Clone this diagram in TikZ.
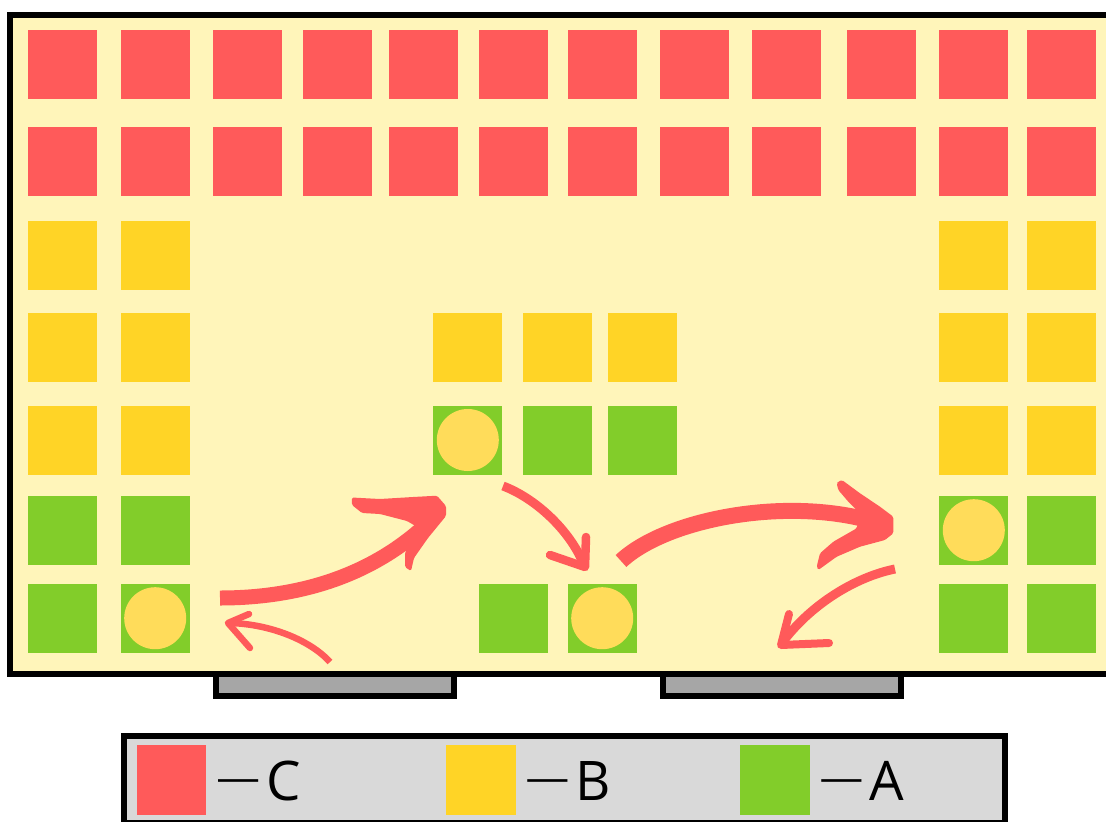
\documentclass[tikz,border=0pt]{standalone}
\usepackage{fontspec}
\setmainfont{Open Sans}
\usepackage{graphicx}
\definecolor{bgy}{HTML}{FFF5BA}
\definecolor{cred}{HTML}{FF5A5A}
\definecolor{cyel}{HTML}{FFD426}
\definecolor{cgrn}{HTML}{82CD2A}
\definecolor{ccirc}{HTML}{FFDC5A}
\definecolor{doorgray}{HTML}{A6A6A6}
\definecolor{leggray}{HTML}{D9D9D9}
\definecolor{arr}{HTML}{FF5A5A}
\newcommand\legdash{\raisebox{10pt}{\scalebox{0.8}[0.65]{—}}\hspace{6pt}}
\begin{document}
\begin{tikzpicture}[x=1pt,y=-1pt,
  sq/.style={minimum size=69pt, inner sep=0pt, outer sep=0pt, anchor=north west, draw=none},
  redsq/.style={sq, fill=cred},
  yelsq/.style={sq, fill=cyel},
  grnsq/.style={sq, fill=cgrn},
  dot/.style={circle, minimum size=62pt, inner sep=0pt, fill=ccirc},
  shaft/.style={draw=arr, line cap=butt},
  headfill/.style={fill=arr, rounded corners=1.5pt},
  chev/.style={draw=arr, line join=round, line cap=round},
  framebox/.style={draw=black, line width=6pt},
  legtxt/.style={anchor=base west, inner sep=0pt, font=\fontsize{54.6pt}{60pt}\selectfont}
]
\useasboundingbox (0,0) rectangle (1106,822);
\clip (0,0) rectangle (1106,822);

% doors
\draw[framebox, fill=doorgray] (216,650) rectangle (454.3,696);
\draw[framebox, fill=doorgray] (663,650) rectangle (901.3,696.3);

% room
\draw[framebox, fill=bgy] (10.3,15) rectangle (1130,674);

% red rows
\foreach \r/\y in {1/30,2/127}{
  \foreach \c/\x in {1/28.3,2/120.7,3/213,4/303,5/388.7,6/479.3,7/567.7,8/660,9/752.3,10/847,11/939.3,12/1027.3}{
    \node[redsq] (r\r c\c) at (\x,\y) {};
  }
}
% yellow rows at sides
\foreach \r/\y in {3/221,4/313.3,5/405.5}{
  \foreach \c/\x in {1/28.3,2/120.7,11/939.3,12/1027.3}{
    \node[yelsq] (r\r c\c) at (\x,\y) {};
  }
}
% green rows at sides
\foreach \r/\y in {6/495.7,7/583.7}{
  \foreach \c/\x in {1/28.3,2/120.7,11/939.3,12/1027.3}{
    \node[grnsq] (r\r c\c) at (\x,\y) {};
  }
}
% middle block
\node[yelsq] (my1) at (433.3,313.3) {};
\node[yelsq] (my2) at (522.7,313.3) {};
\node[yelsq] (my3) at (608.3,313.3) {};
\node[grnsq] (mg1) at (433.3,405.5) {};
\node[grnsq] (mg2) at (522.7,405.5) {};
\node[grnsq] (mg3) at (608.3,405.5) {};
% bottom middle
\node[grnsq] (bg1) at (479.3,583.7) {};
\node[grnsq] (bg2) at (567.7,583.7) {};

% circles
\node[dot] (d1) at (r7c2.center) {};
\node[dot] (d2) at (mg1.center) {};
\node[dot] (d3) at (bg2.center) {};
\node[dot] (d4) at (r6c11.center) {};

% arrow 1 (big, left)
\coordinate (a1s) at (220,598);
\coordinate (a1e) at (432,519);
\draw[shaft, line width=15pt] (a1s) .. controls (295,598) and (372,578) .. (a1e);
\fill[headfill] (351.7,497.5) -- (380,499) -- (413,497) -- (437,495.7) -- (446,506) -- (446,516)
  -- (428,538) -- (414,558) -- (411,571) -- (405,567) -- (405,553) -- (412,537) -- (419,528)
  -- (407,521) -- (380,514) -- (362,513) -- (352,505) -- cycle;

% arrow 2 (small, bottom left)
\coordinate (a2s) at (330,662);
\coordinate (a2e) at (230,623);
\draw[shaft, line width=6.5pt] (a2s) .. controls (310,640) and (270,624) .. (a2e);
\draw[chev, line width=6.5pt] (249,614) -- (228,623) -- (250,648);

% arrow 3 (middle, down)
\coordinate (a3s) at (503,486);
\coordinate (a3e) at (584,565);
\draw[shaft, line width=9pt] (a3s) .. controls (535,498) and (570,530) .. (a3e);
\draw[chev, line width=8.5pt] (550,555) -- (585,567) -- (586,537);

% arrow 4 (big, right)
\coordinate (a4s) at (621,561);
\coordinate (a4e) at (868,520);
\draw[shaft, line width=16pt] (a4s) .. controls (665,520) and (780,497) .. (a4e);
\fill[headfill] (838.3,481.7) -- (842,480) -- (860,493.3) -- (880,506.7) -- (893.3,516.7)
  -- (893.3,533.3) -- (885,540) -- (860,546.7) -- (836.7,556.7) -- (818.3,570) -- (816.7,566.7)
  -- (820,553.3) -- (833.3,541.7) -- (856.7,528.3) -- (860,513.3) -- (848.3,501.7)
  -- (838.3,490) -- (836.7,483.3) -- cycle;

% arrow 5 (right, down-left)
\coordinate (a5s) at (895,569);
\coordinate (a5e) at (782,643);
\draw[shaft, line width=9pt] (a5s) .. controls (855,577) and (810,605) .. (a5e);
\draw[chev, line width=8pt] (789,614) -- (781,645) -- (829,643);

% legend
\draw[framebox, fill=leggray] (124,735.7) rectangle (1004.5,822.5);
\node[redsq, minimum size=69.5pt] (lc) at (136.7,745) {};
\node[yelsq, minimum size=69.5pt] (lb) at (446,745) {};
\node[grnsq, minimum size=69.5pt] (la) at (740,745) {};
\node[legtxt] (tc) at ([xshift=10pt]lc.east |- 0,800.5) {\legdash C};
\node[legtxt] (tb) at ([xshift=10pt]lb.east |- 0,800.5) {\legdash B};
\node[legtxt] (ta) at ([xshift=10pt]la.east |- 0,800.5) {\legdash A};
\end{tikzpicture}
\end{document}
